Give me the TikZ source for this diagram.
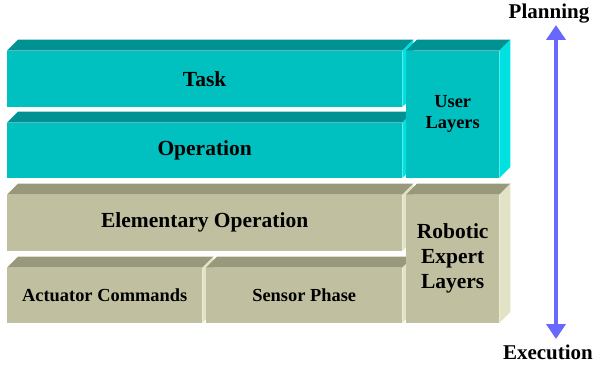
\documentclass[tikz,border=0pt]{standalone}
\usepackage{fontspec}
\setmainfont{Liberation Serif}
\usetikzlibrary{arrows.meta}

\definecolor{userfront}{RGB}{0,192,192}
\definecolor{usertop}{RGB}{0,146,146}
\definecolor{userside}{RGB}{0,226,226}
\definecolor{expfront}{RGB}{192,192,160}
\definecolor{exptop}{RGB}{152,152,122}
\definecolor{expside}{RGB}{226,226,196}
\definecolor{levelarrow}{RGB}{104,104,255}

% top and right faces of a block (node name, top colour, side colour)
\newcommand{\blockfaces}[3]{%
  \fill[#2] (#1.north west) -- ++(11,11) -- ([shift={(11,11)}]#1.north east) -- (#1.north east) -- cycle;
  \fill[#3] (#1.north east) -- ++(11,11) -- ([shift={(11,11)}]#1.south east) -- (#1.south east) -- cycle;
}

\begin{document}
\begin{tikzpicture}[x=1pt, y=1pt,
    layer/.style={anchor=south west, inner sep=0pt, align=center},
    big/.style={font=\bfseries\fontsize{21.5}{25}\selectfont},
    small/.style={font=\bfseries\fontsize{18.4}{21}\selectfont},
    user/.style={layer, fill=userfront},
    expert/.style={layer, fill=expfront}]
  \useasboundingbox (0,0) rectangle (595,365);

  %% user layers
  \node[user, big, minimum width=395pt, minimum height=56pt] (task) at (7,258) {Task};
  \blockfaces{task}{usertop}{userside}
  \node[user, big, minimum width=395pt, minimum height=55pt] (oper) at (7,187) {Operation};
  \blockfaces{oper}{usertop}{userside}
  \node[user, small, minimum width=93pt, minimum height=127pt] (userlay) at (406,187) {User\\Layers};
  \blockfaces{userlay}{usertop}{userside}

  %% robotic expert layers
  \node[expert, big, minimum width=395pt, minimum height=56pt] (elem) at (7,114) {Elementary Operation};
  \blockfaces{elem}{exptop}{expside}
  \node[expert, small, minimum width=195pt, minimum height=55pt] (act) at (7,42) {Actuator Commands};
  \blockfaces{act}{exptop}{expside}
  \node[expert, small, minimum width=196pt, minimum height=55pt] (sens) at (206,42) {Sensor Phase};
  \blockfaces{sens}{exptop}{expside}
  \node[expert, big, minimum width=93pt, minimum height=128pt] (robot) at (406,42) {Robotic\\Expert\\Layers};
  \blockfaces{robot}{exptop}{expside}

  %% planning / execution scale
  \node[big, font=\bfseries\fontsize{21}{25}\selectfont] (plan) at (549,351) {Planning};
  \node[big, font=\bfseries\fontsize{21}{25}\selectfont] (exec) at (548,13) {Execution};
  \coordinate (planend) at (556,340);
  \coordinate (execend) at (556,26);
  \draw[levelarrow, line width=4pt, {Triangle[width=19pt,length=15pt]}-{Triangle[width=19pt,length=15pt]}] (execend) -- (planend);
\end{tikzpicture}
\end{document}
